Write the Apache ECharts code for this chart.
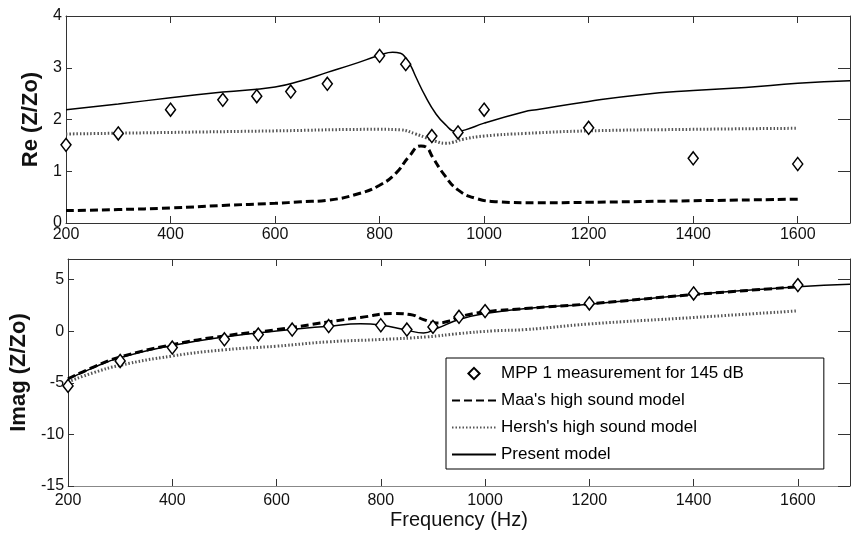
<!DOCTYPE html>
<html><head><meta charset="utf-8">
<script src="https://cdn.jsdelivr.net/npm/echarts@6/dist/echarts.min.js"></script>
<style>html,body{margin:0;padding:0;background:#fff}#c{width:853px;height:534px}</style>
</head><body><div id="c"></div>
<script>
// Tick labels
const xTicks = [200,400,600,800,1000,1200,1400,1600];
const reTicks = [0,1,2,3,4];
const imTicks = [-15,-10,-5,0,5];

// Measurement (diamonds)
const measFreq = [200,300,400,500,565,630,700,800,850,900,950,1000,1200,1400,1600];
const measRe   = [1.51,1.73,2.19,2.38,2.45,2.54,2.69,3.23,3.07,1.68,1.75,2.19,1.84,1.25,1.14];
const measIm   = [-5.3,-2.88,-1.58,-0.78,-0.32,0.16,0.5,0.58,0.16,0.42,1.4,1.95,2.69,3.66,4.47];

// Present model (solid)
const presentReFreq = [200,300,400,500,600,650,700,750,800,825,840,850,860,869,888,907,926,945,964,1000,1077,1100,1200,1300,1400,1500,1600,1700];
const presentRe     = [2.19,2.30,2.42,2.53,2.63,2.75,2.91,3.07,3.24,3.30,3.28,3.19,3.03,2.83,2.44,2.12,1.90,1.77,1.80,1.93,2.15,2.19,2.35,2.48,2.56,2.62,2.70,2.75];
const presentImFreq = [200,250,300,400,500,600,700,761,800,850,882,907,950,1000,1100,1200,1400,1600,1700];
const presentIm     = [-4.65,-3.5,-2.56,-1.38,-0.55,0.03,0.49,0.72,0.6,0.1,-0.16,0.26,1.13,1.72,2.3,2.62,3.56,4.3,4.55];

// Maa's high sound model (dashed)
const maaReFreq = [200,300,400,500,600,650,700,761,800,831,856,879,890,901,926,950,983,1026,1100,1200,1400,1600];
const maaRe     = [0.24,0.26,0.29,0.34,0.38,0.41,0.44,0.57,0.73,0.96,1.28,1.49,1.46,1.28,0.90,0.64,0.48,0.41,0.39,0.40,0.43,0.46];
const maaImFreq = [200,250,300,400,500,600,699,761,825,856,882,907,932,950,1000,1077,1200,1400,1600];
const maaIm     = [-4.6,-3.45,-2.5,-1.3,-0.45,0.15,0.9,1.33,1.72,1.62,1.13,0.8,1.0,1.39,1.87,2.2,2.65,3.55,4.3];

// Hersh's high sound model (dotted)
const hershReFreq = [200,400,600,800,840,869,888,907,926,940,960,1000,1077,1200,1400,1600];
const hershRe     = [1.72,1.75,1.78,1.81,1.80,1.72,1.65,1.58,1.54,1.56,1.62,1.68,1.73,1.78,1.81,1.83];
const hershImFreq = [200,250,300,400,500,600,699,800,888,950,1014,1077,1200,1400,1600];
const hershIm     = [-4.9,-4.0,-3.3,-2.4,-1.8,-1.45,-1.03,-0.8,-0.55,-0.23,0.03,0.16,0.7,1.33,1.97];

const names = ['MPP 1 measurement for 145 dB', "Maa's high sound model", "Hersh's high sound model", 'Present model'];

const FONT = 'Liberation Sans, Arial, sans-serif';
const pairs = (xs, ys) => xs.map((x, i) => [x, ys[i]]);
const axisLineStyle = {color: '#333', width: 1};

function xAx(gridIndex, position, labels, extra) {
  return Object.assign({
    type: 'value', gridIndex, position, min: 200, max: 1700, interval: 200,
    axisLine: {show: true, onZero: false, lineStyle: axisLineStyle},
    axisTick: {show: true, inside: true, length: 7, lineStyle: {color: '#333'}},
    axisLabel: {show: labels, margin: gridIndex === 0 ? 4 : 7, fontSize: 16, fontFamily: FONT, color: '#111',
      formatter: v => xTicks.includes(v) ? String(v) : ''},
    splitLine: {show: false}
  }, extra || {});
}
function yAx(gridIndex, position, min, max, interval, ticks, labels, extra) {
  return Object.assign({
    type: 'value', gridIndex, position, min, max, interval,
    axisLine: {show: true, onZero: false, lineStyle: axisLineStyle},
    axisTick: {show: true, inside: true, length: position === 'right' ? 12 : 6, lineStyle: {color: '#333'}},
    axisLabel: {show: labels, margin: 4, fontSize: 16, fontFamily: FONT, color: '#111',
      formatter: v => ticks.includes(v) ? String(v) : ''},
    splitLine: {show: false}
  }, extra || {});
}

const solid = {color: '#000', width: 1.5, type: 'solid'};
const dashed = {color: '#000', width: 3, type: [8, 4]};
const dotted = {color: '#555', width: 3, type: [1.5, 2]};

function lineSeries(name, data, xi, yi, ls) {
  return {name, type: 'line', data, xAxisIndex: xi, yAxisIndex: yi, symbol: 'none', showSymbol: false,
    smooth: 0.5, lineStyle: ls, itemStyle: {color: ls.color}, clip: true, z: 3};
}
function measSeries(data, xi, yi) {
  return {name: names[0], type: 'line', data, xAxisIndex: xi, yAxisIndex: yi,
    symbol: 'diamond', symbolSize: [10, 13], showSymbol: true, clip: false,
    lineStyle: {width: 0, opacity: 0},
    itemStyle: {color: '#fff', borderColor: '#000', borderWidth: 1.5}, z: 4};
}

const option = {
  animation: false,
  backgroundColor: '#fff',
  grid: [
    {left: 66, top: 16, width: 794, height: 207},
    {left: 66, top: 259, width: 794, height: 227}
  ],
  xAxis: [
    xAx(0, 'bottom', true),
    xAx(0, 'top', false),
    xAx(1, 'bottom', true, {name: 'Frequency (Hz)', nameLocation: 'middle', nameGap: 24,
      nameTextStyle: {fontSize: 20, fontFamily: FONT, color: '#111'},
      axisLine: {show: true, onZero: false, lineStyle: {color: '#888', width: 1}}}),
    xAx(1, 'top', false)
  ],
  yAxis: [
    yAx(0, 'left', 0, 4, 1, reTicks, true, {name: 'Re (Z/Zo)', nameLocation: 'middle', nameRotate: 90, nameGap: 17,
      nameTextStyle: {fontSize: 22, fontWeight: 'bold', fontFamily: FONT, color: '#111'}}),
    yAx(0, 'right', 0, 4, 1, reTicks, false),
    yAx(1, 'left', -15, 7, 5, imTicks, true, {name: 'Imag (Z/Zo)', nameLocation: 'middle', nameRotate: 90, nameGap: 26,
      nameTextStyle: {fontSize: 22, fontWeight: 'bold', fontFamily: FONT, color: '#111'}}),
    yAx(1, 'right', -15, 7, 5, imTicks, false)
  ],
  legend: {
    orient: 'vertical', left: 446, top: 358,
    padding: [7, 80, 6, 5], itemWidth: 44, itemHeight: 14, itemGap: 10,
    backgroundColor: '#fff', borderColor: '#000', borderWidth: 1, borderRadius: 0,
    textStyle: {fontSize: 17, lineHeight: 17, fontFamily: FONT, color: '#000'},
    selectedMode: false,
    data: [
      {name: names[0]},
      {name: names[1], itemStyle: {opacity: 0}},
      {name: names[2], itemStyle: {opacity: 0}},
      {name: names[3], itemStyle: {opacity: 0}}
    ]
  },
  series: [
    lineSeries(names[3], pairs(presentReFreq, presentRe), 0, 0, solid),
    lineSeries(names[1], pairs(maaReFreq, maaRe), 0, 0, dashed),
    lineSeries(names[2], pairs(hershReFreq, hershRe), 0, 0, dotted),
    measSeries(pairs(measFreq, measRe), 0, 0),
    lineSeries(names[3], pairs(presentImFreq, presentIm), 2, 2, solid),
    lineSeries(names[1], pairs(maaImFreq, maaIm), 2, 2, dashed),
    lineSeries(names[2], pairs(hershImFreq, hershIm), 2, 2, dotted),
    measSeries(pairs(measFreq, measIm), 2, 2)
  ]
};
const chart = echarts.init(document.getElementById('c'), null, {renderer: 'canvas'});
chart.setOption(option);
</script></body></html>
